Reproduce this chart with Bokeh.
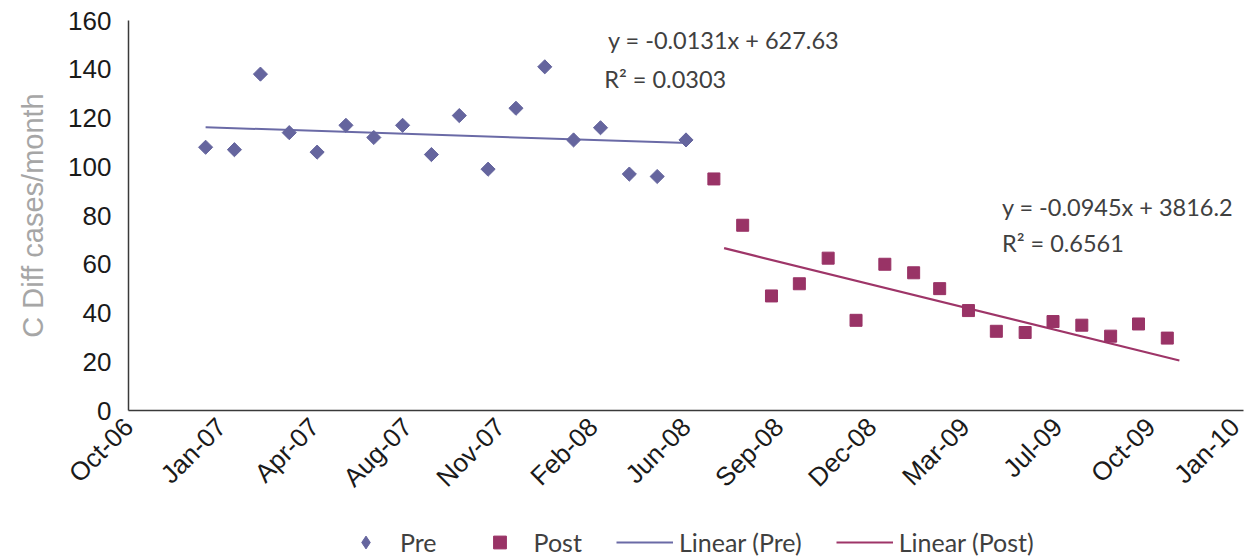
import math
import pandas as pd
from bokeh.plotting import figure
from bokeh.layouts import column
from bokeh.models import (Range1d, FixedTicker, DatetimeTickFormatter, Label,
                          Legend, LegendItem, ColumnDataSource)
from bokeh.embed import file_html
from bokeh.resources import INLINE

# ---------------- data ----------------
pre_months = ["2007-01-01", "2007-02-01", "2007-03-01", "2007-04-01", "2007-05-01",
              "2007-06-01", "2007-07-01", "2007-08-01", "2007-09-01", "2007-10-01",
              "2007-11-01", "2007-12-01", "2008-01-01", "2008-02-01", "2008-03-01",
              "2008-04-01", "2008-05-01", "2008-06-01"]
pre_cases = [108, 107, 138, 114, 106, 117, 112, 117, 105, 121, 99, 124, 141, 111, 116, 97, 96, 111]

post_months = ["2008-07-01", "2008-08-01", "2008-09-01", "2008-10-01", "2008-11-01",
               "2008-12-01", "2009-01-01", "2009-02-01", "2009-03-01", "2009-04-01",
               "2009-05-01", "2009-06-01", "2009-07-01", "2009-08-01", "2009-09-01",
               "2009-10-01", "2009-11-01"]
post_cases = [95, 76, 47, 52, 62.5, 37, 60, 56.5, 50, 41, 32.5, 32, 36.5, 35, 30.5, 35.5, 29.7]

pre_trend_dates = ["2007-01-01", "2008-06-03"]
pre_trend_values = [116.2, 109.7]
post_trend_dates = ["2008-07-12", "2009-11-14"]
post_trend_values = [66.6, 20.5]

pre_equation = "y = -0.0131x  + 627.63"
pre_r2 = "R² = 0.0303"
post_equation = "y = -0.0945x  + 3816.2"
post_r2 = "R² = 0.6561"

x_tick_dates = ["2006-10-10", "2007-01-18", "2007-04-28", "2007-08-06", "2007-11-14",
                "2008-02-22", "2008-06-01", "2008-09-09", "2008-12-18", "2009-03-28",
                "2009-07-06", "2009-10-14", "2010-01-22"]
y_ticks = [0, 20, 40, 60, 80, 100, 120, 140, 160]

y_label = "C Diff cases/month"
series_names = ["Pre", "Post", "Linear (Pre)", "Linear (Post)"]

# ---------------- helpers ----------------
def ms(d):
    return pd.Timestamp(d).value / 1e6

PRE_COLOR = "#65659E"
POST_COLOR = "#993366"
PRE_LINE = "#6A6AA6"
POST_LINE = "#9E3568"
TEXT_FONT = "Lato"
AXIS_FONT = "Liberation Sans"

p = figure(frame_width=1115, frame_height=390,
           x_axis_type="datetime",
           x_range=Range1d(ms(x_tick_dates[0]), ms(x_tick_dates[-1])),
           y_range=Range1d(y_ticks[0], y_ticks[-1]),
           output_backend="svg", toolbar_location=None,
           min_border_left=128, min_border_top=20, min_border_right=2,
           min_border_bottom=108)

p.xgrid.visible = False
p.ygrid.visible = False
p.outline_line_color = None
p.background_fill_color = "white"

pre_src = ColumnDataSource(dict(x=pd.to_datetime(pre_months), y=pre_cases))
post_src = ColumnDataSource(dict(x=pd.to_datetime(post_months), y=post_cases))

p.line(pd.to_datetime(pre_trend_dates), pre_trend_values,
       line_color=PRE_LINE, line_width=2)
p.line(pd.to_datetime(post_trend_dates), post_trend_values,
       line_color=POST_LINE, line_width=2.2)
p.scatter("x", "y", source=pre_src, marker="square", size=10,
          angle=math.pi / 4, fill_color=PRE_COLOR, line_color=PRE_COLOR)
p.scatter("x", "y", source=post_src, marker="square", size=12,
          fill_color=POST_COLOR, line_color=POST_COLOR)

# axes
for ax in (p.xaxis[0], p.yaxis[0]):
    ax.axis_line_color = "#3a3a3a"
    ax.axis_line_width = 1.5
    ax.major_tick_line_color = None
    ax.minor_tick_line_color = None
    ax.major_tick_out = 0
    ax.major_tick_in = 0
    ax.major_label_text_font = AXIS_FONT
    ax.major_label_text_font_size = "26px"
    ax.major_label_text_color = "#1a1a1a"

p.xaxis.ticker = FixedTicker(ticks=[ms(d) for d in x_tick_dates])
fmt = "%b-%y"
p.xaxis.formatter = DatetimeTickFormatter(
    microseconds=fmt, milliseconds=fmt, seconds=fmt, minsec=fmt, minutes=fmt,
    hourmin=fmt, hours=fmt, days=fmt, months=fmt, years=fmt)
p.xaxis.major_label_orientation = math.pi / 4
p.xaxis.major_label_standoff = 12

p.yaxis.ticker = FixedTicker(ticks=y_ticks)
p.yaxis.major_label_standoff = 17
p.yaxis.axis_label = y_label
p.yaxis.axis_label_text_font = AXIS_FONT
p.yaxis.axis_label_text_font_style = "normal"
p.yaxis.axis_label_text_font_size = "29px"
p.yaxis.axis_label_text_color = "#a6a6a6"
p.yaxis.axis_label_standoff = 16

# equation labels
def eq_label(date, yv, text):
    lab = Label(x=ms(date), y=yv, text=text, text_font=TEXT_FONT,
                text_font_size="23.5px", text_color="#404040",
                text_baseline="middle", text_align="left")
    p.add_layout(lab)

eq_label("2008-03-09", 151.8, pre_equation)
eq_label("2008-03-05", 136.2, pre_r2)
eq_label("2009-05-07", 83.3, post_equation)
eq_label("2009-05-07", 68.9, post_r2)

# ---------------- legend strip under the chart ----------------
lf = figure(width=1245, height=40, x_range=Range1d(0, 1), y_range=Range1d(0, 1),
            x_axis_location=None, y_axis_location=None,
            output_backend="svg", toolbar_location=None, min_border=0)
lf.xgrid.visible = False
lf.ygrid.visible = False
lf.outline_line_color = None

# swatch renderers: one point each, placed outside the strip's visible range
def hidden():
    return ColumnDataSource(dict(x=[5, 6], y=[5, 6]))

lg_pre = lf.scatter(x="x", y="y", source=hidden(), marker="diamond",
                    fill_color=PRE_COLOR, line_color=PRE_COLOR)
lg_post = lf.scatter(x="x", y="y", source=hidden(), marker="square",
                     fill_color=POST_COLOR, line_color=POST_COLOR)
lg_pre_line = lf.line(x="x", y="y", source=hidden(),
                      line_color=PRE_LINE, line_width=2)
lg_post_line = lf.line(x="x", y="y", source=hidden(),
                       line_color=POST_LINE, line_width=2.2)

legend = Legend(items=[LegendItem(label=series_names[0], renderers=[lg_pre]),
                       LegendItem(label=series_names[1], renderers=[lg_post]),
                       LegendItem(label=series_names[2], renderers=[lg_pre_line]),
                       LegendItem(label=series_names[3], renderers=[lg_post_line])],
                orientation="horizontal", location=(209, 0),
                glyph_width=57, glyph_height=32, label_standoff=6, spacing=34,
                label_text_font=TEXT_FONT, label_text_font_size="25px",
                label_text_color="#404040", border_line_color=None,
                background_fill_alpha=0, margin=0, padding=0)
lf.add_layout(legend)

open("out.html", "w").write(file_html(column(p, lf), INLINE))
